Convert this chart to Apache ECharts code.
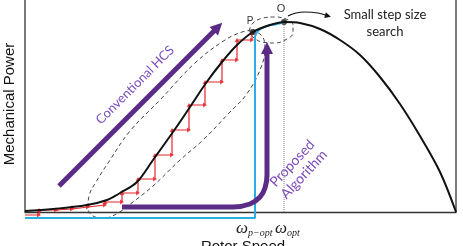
<!DOCTYPE html>
<html><head><meta charset="utf-8">
<script src="https://cdn.jsdelivr.net/npm/echarts@6/dist/echarts.min.js"></script>
<style>html,body{margin:0;padding:0;background:#fff}#c{width:463px;height:246px}</style>
</head><body><div id="c"></div>
<script>
// Power curve (rotor speed vs mechanical power), schematic units
const curveSpeed = [0,28,62,82,95,112,128,148,165,181,197,212,228,245,260,275,295,315,335,355,375,395,415,431];
const curvePower = [1,3,7,12,19,30,52,80,105,129,150,167,180,187,190,189,183,172,157,135,108,76,40,0];
// Conventional HCS staircase
const stepSpeed = [0,14,31,47,63,80,97,113,130,147,164,180,197,212,227];
const stepPower = [-3,2,3,5,7,10,19,33,57,82,107,130,152,172,179];
// Proposed algorithm path (cyan)
const cyanSpeed = [0,230,230];
const cyanPower = [-6,-6,176];
const cyanTopSpeed = [230,234,242,252,259];
const cyanTopPower = [176,182,186,188,190];
// Purple arrows
const hcsArrowSpeed = [34,193];
const hcsArrowPower = [26,185];
const propArrowSpeed = [97,208,225,235,240,242,242];
const propArrowPower = [5,5,8,15,24,37,164];
// Search regions (dashed outlines)
const bigLoopSpeed = [227,237,240,235,221,205,178,155,128,108,93,79,68,63,64,71,85,105,135,170,200,217,227];
const bigLoopPower = [182,176,164,142,117,100,72,52,26,10,-1,-6,-4,4,16,30,52,81,112,149,172,180,182];
const smallLoopSpeed = [224,228,238,250,261,268,268,262,250,237,228,224];
const smallLoopPower = [181,189,194,195,193,187,179,173,169,170,175,181];
// Callout arrow from O
const calloutSpeed = [263,271,280,293,303];
const calloutPower = [196,199,200,199,196];
// Points
const pointP = [228,180];
const pointO = [259,190];
const xMax = 431, yMin = -8, yMax = 212;

const zip = (a,b) => a.map((v,i)=>[v,b[i]]);
const black = '#111';
const purple = '#5b2c86';
const textPurple = '#7b4cbb';

const rightHeads = [], upHeads = [];
for (let i = 0; i < stepSpeed.length - 1; i++) {
  rightHeads.push([stepSpeed[i+1], stepPower[i]]);
  upHeads.push([stepSpeed[i+1], stepPower[i+1]]);
}
function withHead(xs, ys, rot, size) {
  const d = zip(xs, ys);
  const last = d.pop();
  d.push({value: last, symbol: 'triangle', symbolSize: size, symbolRotate: rot});
  return d;
}

const chart = echarts.init(document.getElementById('c'), null, {renderer: 'canvas'});
chart.setOption({
  animation: false,
  grid: {left: 25, right: 7, top: 0, bottom: 26},
  xAxis: {type: 'value', min: 0, max: xMax, axisLine: {show: true, onZero: true, lineStyle: {color: '#333', width: 1.3}},
          axisTick: {show: false}, axisLabel: {show: false}, splitLine: {show: false}},
  yAxis: {type: 'value', min: yMin, max: yMax, axisLine: {show: false}, axisTick: {show: false},
          axisLabel: {show: false}, splitLine: {show: false}},
  series: [
    {type: 'line', data: [[0,0],[0,yMax]], symbol: 'none', lineStyle: {color: '#333', width: 1.3}, silent: true},
    {type: 'line', data: [[xMax,0],[xMax,yMax]], symbol: 'none', lineStyle: {color: '#333', width: 1.3}, silent: true},
    {type: 'line', data: [[pointO[0],0],[pointO[0],pointO[1]]], symbol: 'none', lineStyle: {color: '#888', width: 1, type: 'dotted'}},
    {type: 'line', data: zip(bigLoopSpeed, bigLoopPower), smooth: 0.4, symbol: 'none', clip: false, lineStyle: {color: '#444', width: 1, type: [4,3]}},
    {type: 'line', data: zip(smallLoopSpeed, smallLoopPower), smooth: 0.4, symbol: 'none', clip: false, lineStyle: {color: '#444', width: 1, type: [4,3]}},
    {type: 'line', data: zip(cyanSpeed, cyanPower), symbol: 'none', lineStyle: {color: '#2aaee4', width: 2}},
    {type: 'line', data: zip(cyanTopSpeed, cyanTopPower), smooth: 0.4, symbol: 'none', lineStyle: {color: '#2aaee4', width: 2}},
    {type: 'line', data: zip(stepSpeed, stepPower), step: 'end', symbol: 'none', lineStyle: {color: '#e8262a', width: 1.2}},
    {type: 'scatter', data: rightHeads, symbol: 'triangle', symbolSize: [5,4], symbolRotate: -90, itemStyle: {color: '#e8262a'}},
    {type: 'scatter', data: upHeads, symbol: 'triangle', symbolSize: [5,4], itemStyle: {color: '#e8262a'}},
    {type: 'line', data: zip(curveSpeed, curvePower), smooth: 0.35, symbol: 'none', lineStyle: {color: black, width: 2}},
    {type: 'line', data: withHead(hcsArrowSpeed, hcsArrowPower, -45, 12), showSymbol: true, symbol: 'none',
     itemStyle: {color: purple}, lineStyle: {color: purple, width: 5}},
    {type: 'line', data: withHead(propArrowSpeed, propArrowPower, 0, 12), showSymbol: true, symbol: 'none', smooth: 0.3,
     itemStyle: {color: purple}, lineStyle: {color: purple, width: 5}},
    {type: 'line', data: withHead(calloutSpeed, calloutPower, -105, 6), showSymbol: true, symbol: 'none', smooth: 0.5,
     itemStyle: {color: black}, lineStyle: {color: black, width: 1.2}},
    {type: 'scatter', data: [pointP, pointO], symbolSize: 6, itemStyle: {color: black}}
  ],
  graphic: [
    {type: 'text', x: 10, y: 104, rotation: Math.PI/2, style: {text: 'Mechanical Power', font: '15px "Liberation Sans"', fill: '#111', align: 'center', verticalAlign: 'middle'}},
    {type: 'text', x: 243, y: 247, style: {text: 'Rotor Speed', font: '15px "Liberation Sans"', fill: '#111', align: 'center', verticalAlign: 'middle'}},
    {type: 'text', x: 236, y: 219, style: {text: '{w|ω}{s|p−opt}', rich: {w: {font: 'italic 17px "Liberation Serif"', fill: '#222'}, s: {font: 'italic 10px "Liberation Serif"', fill: '#222', padding: [9,0,0,0]}}}},
    {type: 'text', x: 275, y: 219, style: {text: '{w|ω}{s|opt}', rich: {w: {font: 'italic 17px "Liberation Serif"', fill: '#222'}, s: {font: 'italic 10px "Liberation Serif"', fill: '#222', padding: [9,0,0,0]}}}},
    {type: 'text', x: 250, y: 21, style: {text: 'P', font: '10px "Liberation Sans"', fill: '#333', align: 'center', verticalAlign: 'middle'}},
    {type: 'text', x: 281, y: 9, style: {text: 'O', font: '11px "Liberation Sans"', fill: '#333', align: 'center', verticalAlign: 'middle'}},
    {type: 'text', x: 385, y: 15, style: {text: 'Small step size', font: '13px Lato', fill: '#222', align: 'center', verticalAlign: 'middle'}},
    {type: 'text', x: 385, y: 32, style: {text: 'search', font: '13px Lato', fill: '#222', align: 'center', verticalAlign: 'middle'}},
    {type: 'text', x: 135, y: 85, rotation: Math.PI/4, style: {text: 'Conventional HCS', font: '13px Lato', fill: textPurple, align: 'center', verticalAlign: 'middle'}},
    {type: 'text', x: 298, y: 169, rotation: 0.82, style: {text: 'Proposed\nAlgorithm', font: '14px Lato', lineHeight: 16, fill: textPurple, align: 'center', verticalAlign: 'middle'}}
  ]
});
</script></body></html>
